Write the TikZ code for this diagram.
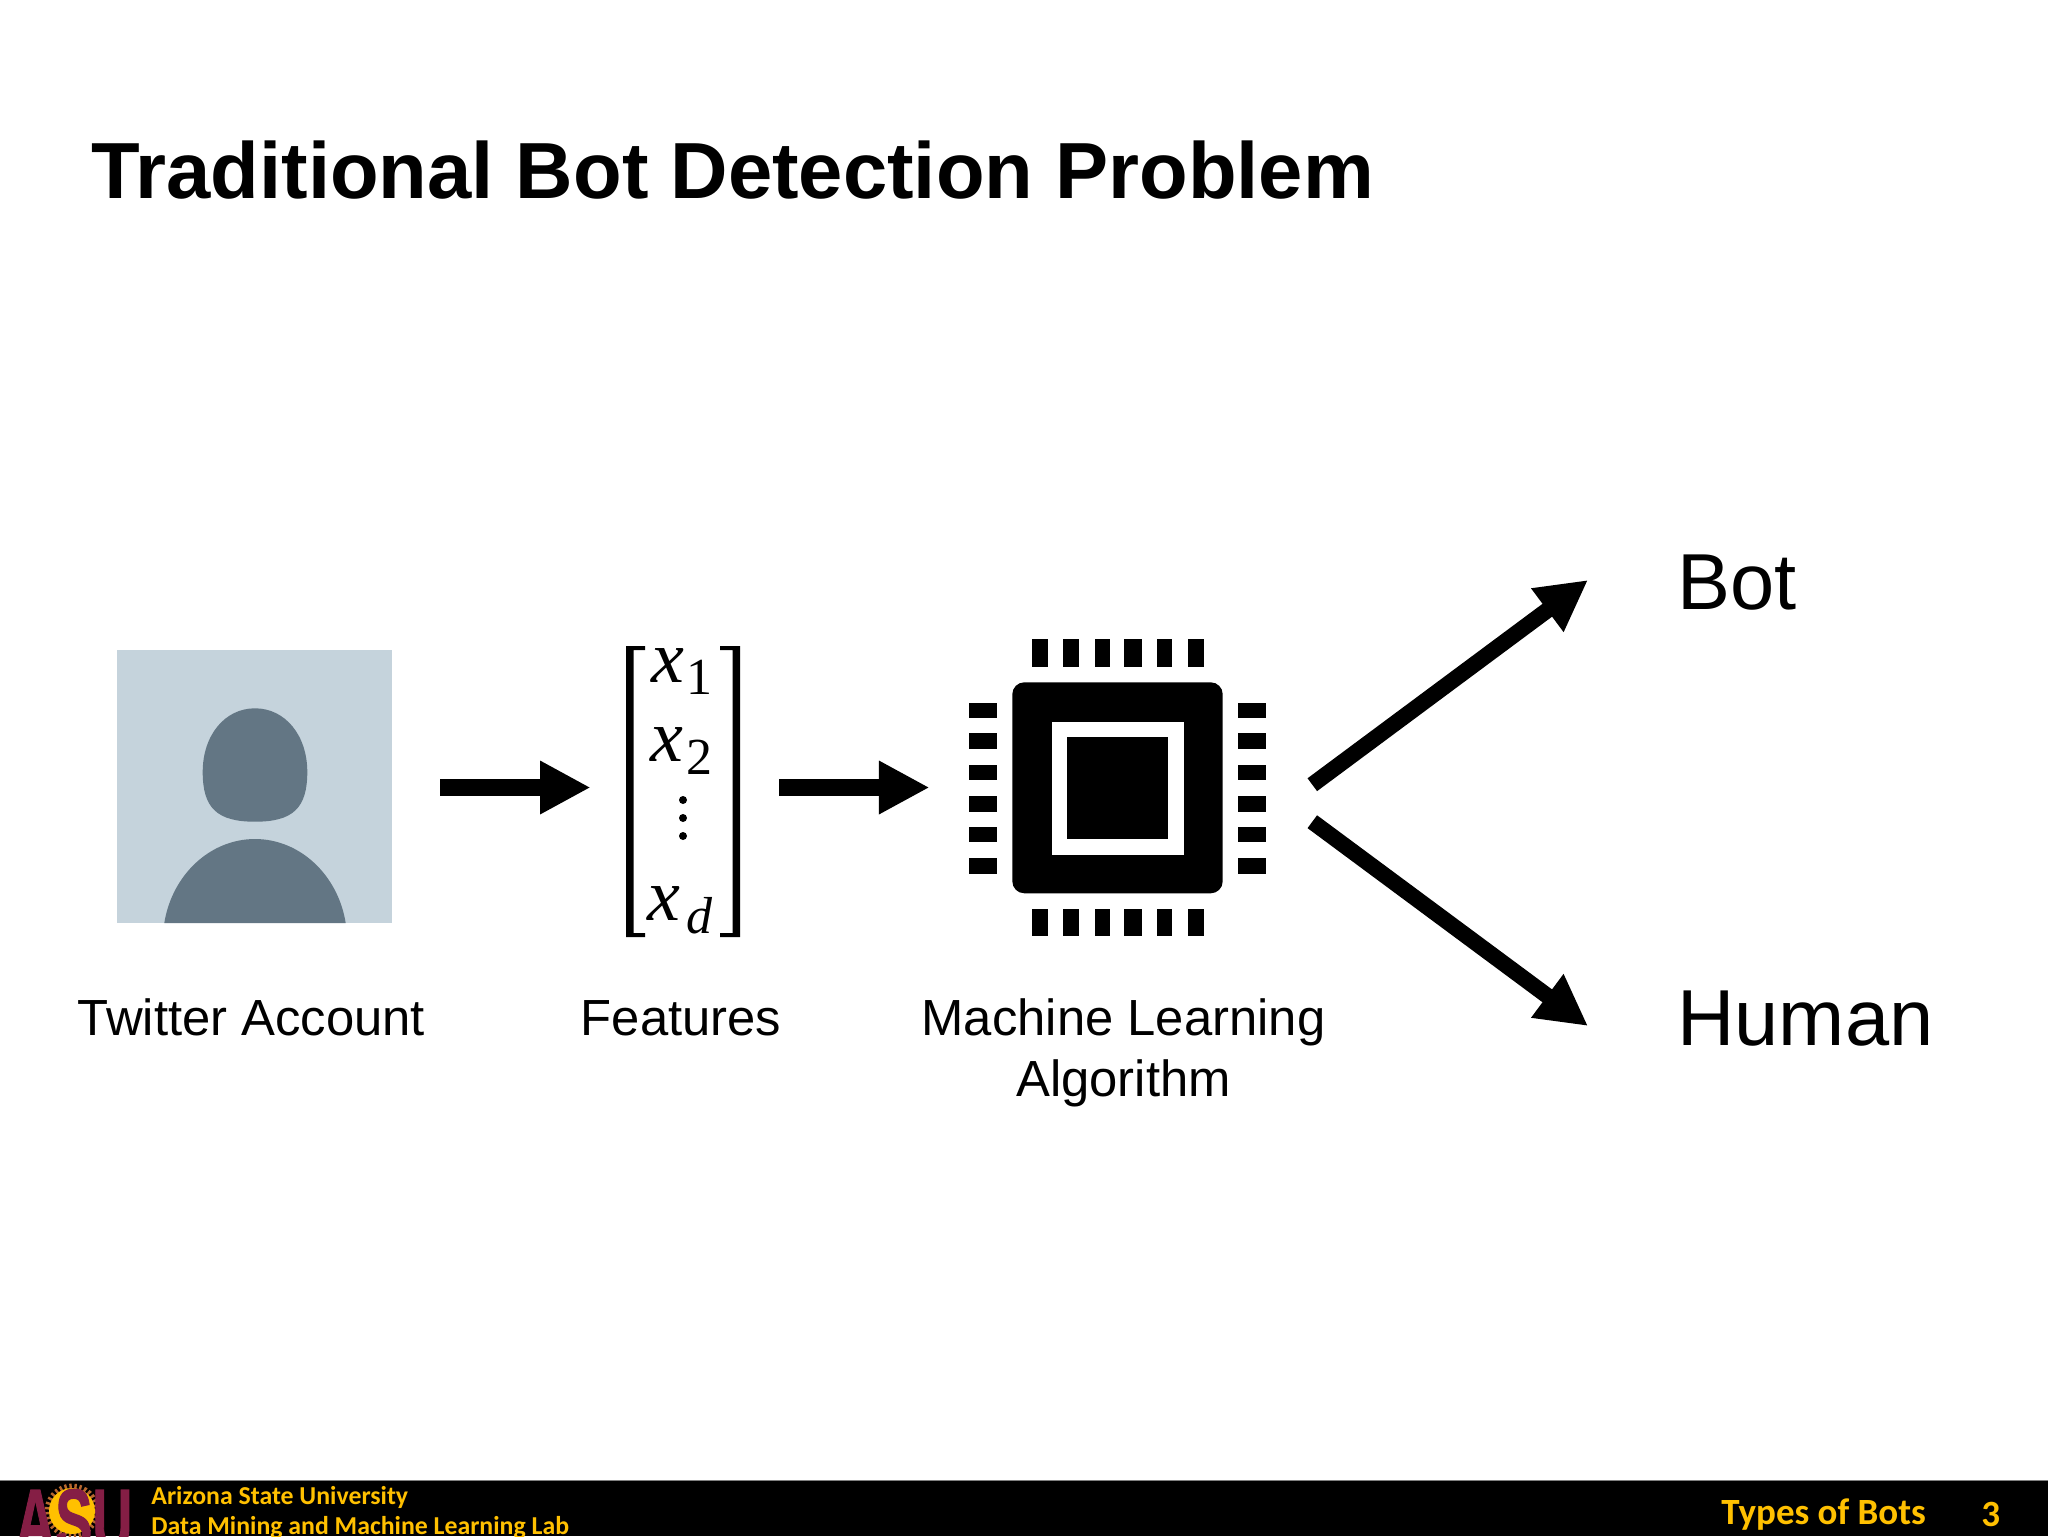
\documentclass[tikz,border=0pt]{standalone}
\usepackage{fontspec}
\setmainfont{Liberation Sans}
\newfontfamily\footfont{Carlito}[BoldFont={Carlito Bold}]
\newfontfamily\mathish{Liberation Serif}
\newfontfamily\logofont{Liberation Sans Bold}[FakeBold=1.5]
\usetikzlibrary{arrows.meta}
\definecolor{avbg}{HTML}{C5D3DC}
\definecolor{avfg}{HTML}{637684}
\definecolor{asugold}{HTML}{FFC000}
\definecolor{asumaroon}{HTML}{851E45}
\definecolor{asuray}{HTML}{B8682F}
\tikzset{
  x=0.5pt,y=-0.5pt,
  lab/.style={inner sep=0pt,font=\fontsize{25.4}{25.4}\selectfont,anchor=base,align=center},
  big/.style={inner sep=0pt,font=\fontsize{39.7}{39.7}\selectfont,anchor=base west},
  flow/.style={line width=8.5pt,-{Triangle[length=25.3pt,width=25pt]}},
  split/.style={line width=8pt,-{Triangle[length=25.35pt,width=25.35pt]}},
  foot/.style={inner sep=0pt,text=asugold,anchor=base west,font=\footfont\bfseries\fontsize{12.9}{12.9}\selectfont},
  footbig/.style={foot,font=\footfont\bfseries\fontsize{18.5}{18.5}\selectfont},
  vx/.style={inner sep=0pt,anchor=base,font=\mathish\itshape\fontsize{37}{37}\selectfont},
  vs/.style={inner sep=0pt,anchor=base,font=\mathish\fontsize{26}{26}\selectfont},
  vi/.style={inner sep=0pt,anchor=base,font=\mathish\itshape\fontsize{26}{26}\selectfont},
  pin/.style={fill=black,draw=none},
}
\begin{document}
\begin{tikzpicture}
\useasboundingbox (0,0) rectangle (2048,1536);
\fill[white] (0,0) rectangle (2048,1536);
\node[inner sep=0pt,anchor=base west,font=\bfseries\fontsize{39.8}{39.8}\selectfont] (title) at (91,198) {Traditional Bot Detection Problem};
% avatar
\fill[avbg] (117,650.3) rectangle (392.3,923);
\fill[avfg] (255,708.3) .. controls (285,708.3) and (307.3,735) .. (307.3,772)
  .. controls (307.3,808) and (293,821.7) .. (255,821.7)
  .. controls (217,821.7) and (202.7,808) .. (202.7,772)
  .. controls (202.7,735) and (225,708.3) .. (255,708.3) -- cycle;
\fill[avfg] (164.3,923) .. controls (172,875) and (210,839) .. (255,839)
  .. controls (300,839) and (338,875) .. (345.7,923) -- cycle;
\node[lab] (lacct) at (251.5,1035) {Twitter Account};
% features
\fill (645,646) -- (626,646) -- (626,937) -- (645,937) -- (645,933) -- (633.5,933) -- (633.5,650) -- (645,650) -- cycle;
\fill (720,646) -- (740,646) -- (740,937) -- (720,937) -- (720,933) -- (732.7,933) -- (732.7,650) -- (720,650) -- cycle;
\node[vx] (x1) at (668,682) {x};
\node[vs] (s1) at (699,694) {1};
\node[vx] (x2) at (667,761) {x};
\node[vs] (s2) at (699,774) {2};
\fill (683,800) circle[radius=4];
\fill (683,818) circle[radius=4];
\fill (683,836) circle[radius=4];
\node[vx] (xd) at (664,920) {x};
\node[vi] (sd) at (699,933) {d};
\node[lab] (lfeat) at (681,1035) {Features};
% chip
\fill[rounded corners=6pt] (1012.3,682.3) rectangle (1222.7,893.3);
\fill[white] (1051.7,722.3) rectangle (1184.3,855);
\fill (1067,737) rectangle (1168.3,839);
\foreach \a/\b in {247/293,338/388,435/480,523/576,620/666,714/761}{
  \fill[pin] ({950+\a/3},639.3) rectangle ({950+\b/3},666.7);
  \fill[pin] ({950+\a/3},908.7) rectangle ({950+\b/3},936.3);
}
\foreach \a/\b in {248/295,340/388,435/480,527/576,621/667,715/763}{
  \fill[pin] (969.3,{620+\a/3}) rectangle (996.7,{620+\b/3});
  \fill[pin] (1238,{620+\a/3}) rectangle (1265.7,{620+\b/3});
}
\node[lab] (lml) at (1123.5,1035) {Machine Learning};
\node[lab] (lml2) at (1123.5,1096) {Algorithm};
% arrows
\coordinate (a1s) at (440,787.5); \coordinate (a1e) at (590.6,787.5);
\coordinate (a2s) at (779,787.5); \coordinate (a2e) at (929.5,787.5);
\coordinate (a3s) at (1312.3,784.7); \coordinate (a3e) at (1588,580);
\coordinate (a4s) at (1312.3,821.7); \coordinate (a4e) at (1588,1026);
\draw[flow] (a1s) -- (a1e);
\draw[flow] (a2s) -- (a2e);
\draw[split] (a3s) -- (a3e);
\draw[split] (a4s) -- (a4e);
\node[big] (bot) at (1677,609.5) {Bot};
\node[big] (human) at (1677,1045) {Human};
% footer
\fill[black] (0,1480) rectangle (2048,1536);
\fill[gray] (0,1479.5) rectangle (2048,1481);
\begin{scope}
\clip (0,1481) rectangle (2048,1536);
\draw[asuray,line width=3.5pt,dash pattern=on 1.2pt off 1.2pt] (72,1511) circle[radius=24];
\fill[asugold] (72,1511) circle[radius=23];
\node[inner sep=0pt,anchor=base west,text=asumaroon,font=\logofont\fontsize{27.7}{27.7}\selectfont] (asu) at (15,1551) {\scalebox{1}[1.6]{ASU}};
\end{scope}
\node[foot] (f1) at (151,1504) {Arizona State University};
\node[foot] (f2) at (151,1534) {Data Mining and Machine Learning Lab};
\node[footbig] (f3) at (1721,1524) {Types of Bots};
\node[footbig] (f4) at (1981,1526) {3};
\end{tikzpicture}
\end{document}
